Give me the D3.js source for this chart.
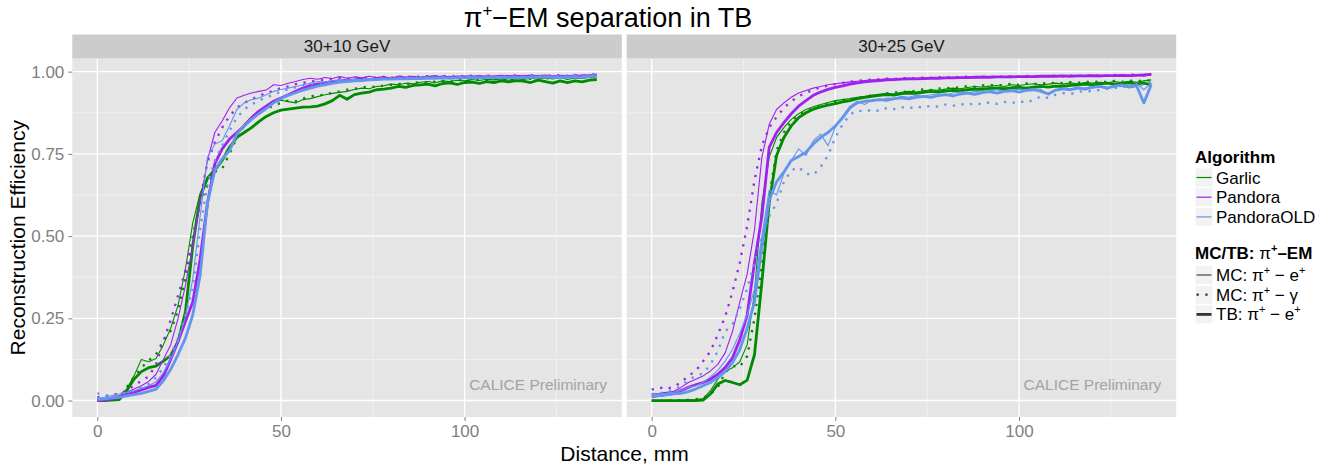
<!DOCTYPE html>
<html>
<head>
<meta charset="utf-8">
<script src="https://cdn.jsdelivr.net/npm/d3@7"></script>
<style>
  body { margin: 0; background: #fff; }
  svg { font-family: "Liberation Sans", Arial, sans-serif; }
</style>
</head>
<body>
<svg id="chart"></svg>
<script>
// distance values (mm), shared by all series
const distance = [0,2,4,6,8,10,12,14,16,18,20,22,24,26,28,30,32,34,36,38,40,42,44,46,48,50,52,54,56,58,60,62,64,66,68,70,72,74,76,78,80,82,84,86,88,90,92,94,96,98,100,102,104,106,108,110,112,114,116,118,120,122,124,126,128,130,132,134,136];

const panels = ['30+10 GeV', '30+25 GeV'];
const algorithms = ['Garlic', 'Pandora', 'PandoraOLD'];
const algoColors = ['#008B00', '#A020F0', '#6495ED'];
const xTicks = [0, 50, 100];
const yTicks = [0, 0.25, 0.5, 0.75, 1];

// ---- 30+10 GeV ----
const garlic10_mcE = [0,0,0.001,0.004,0.035,0.075,0.125,0.118,0.128,0.17,0.22,0.29,0.40,0.54,0.63,0.68,0.705,0.73,0.765,0.81,0.84,0.862,0.88,0.895,0.905,0.913,0.909,0.905,0.915,0.918,0.924,0.93,0.934,0.937,0.94,0.946,0.95,0.948,0.955,0.957,0.962,0.96,0.965,0.963,0.968,0.97,0.966,0.972,0.97,0.974,0.972,0.976,0.973,0.977,0.975,0.978,0.974,0.979,0.976,0.98,0.977,0.981,0.978,0.982,0.976,0.981,0.979,0.983,0.98];
const garlic10_mcG = [0.001,0.001,0.003,0.01,0.04,0.072,0.10,0.122,0.14,0.183,0.212,0.275,0.37,0.50,0.60,0.655,0.695,0.705,0.75,0.80,0.835,0.856,0.874,0.888,0.896,0.905,0.912,0.91,0.918,0.925,0.928,0.93,0.936,0.94,0.945,0.948,0.952,0.955,0.953,0.958,0.96,0.963,0.961,0.966,0.968,0.965,0.97,0.972,0.969,0.974,0.975,0.972,0.977,0.975,0.978,0.976,0.98,0.977,0.981,0.978,0.982,0.979,0.983,0.98,0.984,0.981,0.985,0.982,0.988];
const garlic10_tbE = [0,0,0.001,0.003,0.03,0.065,0.088,0.1,0.105,0.12,0.137,0.18,0.27,0.47,0.62,0.675,0.70,0.73,0.77,0.80,0.815,0.83,0.848,0.864,0.875,0.883,0.886,0.889,0.892,0.893,0.895,0.902,0.912,0.928,0.916,0.93,0.935,0.938,0.945,0.947,0.95,0.955,0.952,0.958,0.96,0.962,0.957,0.964,0.966,0.961,0.967,0.968,0.964,0.97,0.967,0.972,0.969,0.973,0.971,0.967,0.974,0.97,0.965,0.972,0.967,0.972,0.969,0.974,0.976];
const pandora10_mcE = [0.003,0.006,0.01,0.015,0.025,0.035,0.045,0.058,0.08,0.125,0.17,0.25,0.35,0.47,0.6,0.73,0.815,0.85,0.89,0.92,0.928,0.935,0.94,0.944,0.96,0.958,0.965,0.97,0.976,0.98,0.977,0.982,0.979,0.985,0.98,0.984,0.981,0.986,0.982,0.985,0.98,0.987,0.983,0.986,0.981,0.985,0.988,0.983,0.986,0.982,0.987,0.984,0.988,0.983,0.986,0.984,0.988,0.982,0.987,0.985,0.989,0.983,0.987,0.984,0.988,0.985,0.99,0.986,0.991];
const pandora10_mcG = [0.01,0.014,0.017,0.022,0.03,0.045,0.06,0.073,0.11,0.18,0.245,0.32,0.395,0.49,0.61,0.725,0.785,0.83,0.865,0.89,0.905,0.916,0.926,0.935,0.942,0.95,0.955,0.962,0.966,0.97,0.973,0.975,0.978,0.98,0.978,0.982,0.98,0.983,0.981,0.984,0.982,0.985,0.983,0.986,0.984,0.986,0.984,0.987,0.985,0.987,0.985,0.988,0.986,0.988,0.985,0.988,0.986,0.989,0.987,0.989,0.986,0.989,0.987,0.99,0.987,0.99,0.988,0.99,0.992];
const pandora10_tbE = [0,0.002,0.005,0.01,0.018,0.025,0.032,0.04,0.046,0.075,0.125,0.18,0.24,0.30,0.43,0.60,0.72,0.765,0.795,0.815,0.835,0.86,0.88,0.895,0.91,0.92,0.93,0.94,0.95,0.958,0.962,0.966,0.969,0.972,0.974,0.975,0.977,0.976,0.978,0.98,0.979,0.981,0.98,0.982,0.981,0.983,0.982,0.984,0.982,0.984,0.983,0.985,0.983,0.985,0.984,0.986,0.984,0.986,0.985,0.987,0.985,0.987,0.984,0.986,0.985,0.987,0.986,0.988,0.99];
const old10_mcE = [0.008,0.01,0.015,0.02,0.025,0.03,0.037,0.045,0.057,0.085,0.125,0.18,0.255,0.37,0.56,0.74,0.78,0.79,0.835,0.885,0.905,0.915,0.92,0.93,0.94,0.946,0.95,0.955,0.96,0.965,0.97,0.968,0.973,0.975,0.974,0.977,0.976,0.979,0.977,0.98,0.978,0.981,0.979,0.982,0.98,0.983,0.981,0.983,0.98,0.984,0.982,0.985,0.982,0.984,0.983,0.986,0.983,0.985,0.982,0.986,0.984,0.987,0.983,0.986,0.984,0.987,0.985,0.988,0.99];
const old10_mcG = [0.023,0.013,0.016,0.02,0.024,0.03,0.04,0.05,0.07,0.1,0.14,0.19,0.26,0.34,0.52,0.66,0.73,0.775,0.82,0.86,0.885,0.9,0.912,0.922,0.93,0.94,0.946,0.952,0.958,0.962,0.966,0.968,0.971,0.973,0.975,0.976,0.978,0.977,0.979,0.98,0.979,0.981,0.98,0.982,0.981,0.983,0.982,0.983,0.981,0.984,0.983,0.985,0.983,0.985,0.984,0.986,0.984,0.986,0.985,0.987,0.985,0.987,0.984,0.987,0.985,0.988,0.986,0.988,0.99];
const old10_tbE = [0.003,0.005,0.008,0.01,0.014,0.018,0.022,0.028,0.035,0.06,0.095,0.14,0.19,0.26,0.38,0.6,0.70,0.735,0.76,0.81,0.835,0.855,0.872,0.888,0.905,0.918,0.928,0.936,0.944,0.95,0.956,0.96,0.964,0.968,0.97,0.972,0.973,0.975,0.976,0.977,0.977,0.978,0.978,0.979,0.979,0.98,0.98,0.981,0.98,0.981,0.981,0.982,0.981,0.982,0.982,0.983,0.982,0.983,0.982,0.983,0.983,0.984,0.982,0.983,0.983,0.984,0.983,0.985,0.987];

// ---- 30+25 GeV ----
const garlic25_mcE = [0.001,0,0.001,0,0.001,0.002,0.003,0.006,0.03,0.065,0.088,0.1,0.118,0.17,0.33,0.6,0.74,0.8,0.83,0.855,0.872,0.885,0.893,0.9,0.906,0.912,0.915,0.918,0.922,0.925,0.929,0.931,0.934,0.932,0.937,0.94,0.938,0.942,0.945,0.943,0.947,0.95,0.948,0.952,0.955,0.953,0.956,0.958,0.955,0.96,0.958,0.961,0.963,0.96,0.962,0.965,0.962,0.966,0.963,0.967,0.965,0.968,0.966,0.97,0.967,0.971,0.968,0.972,0.975];
const garlic25_mcG = [0,0,0,0.001,0.001,0.002,0.004,0.008,0.02,0.04,0.085,0.105,0.103,0.135,0.25,0.41,0.62,0.76,0.815,0.85,0.868,0.88,0.89,0.896,0.902,0.908,0.913,0.916,0.92,0.925,0.927,0.93,0.934,0.936,0.94,0.938,0.943,0.946,0.944,0.948,0.951,0.949,0.953,0.956,0.954,0.958,0.96,0.957,0.961,0.963,0.96,0.964,0.962,0.966,0.963,0.967,0.965,0.968,0.966,0.97,0.967,0.971,0.968,0.972,0.969,0.973,0.97,0.975,0.972];
const garlic25_tbE = [0,0,0,0,0,0,0,0.001,0.02,0.05,0.061,0.055,0.048,0.062,0.14,0.36,0.6,0.745,0.8,0.835,0.86,0.875,0.886,0.893,0.898,0.903,0.908,0.912,0.918,0.922,0.925,0.928,0.93,0.929,0.933,0.935,0.934,0.937,0.94,0.938,0.941,0.943,0.942,0.945,0.947,0.946,0.949,0.95,0.948,0.951,0.952,0.95,0.953,0.955,0.953,0.956,0.955,0.958,0.96,0.962,0.96,0.963,0.965,0.962,0.964,0.966,0.963,0.965,0.96];
const pandora25_mcE = [0.02,0.022,0.025,0.028,0.04,0.055,0.065,0.075,0.09,0.11,0.145,0.21,0.30,0.385,0.52,0.74,0.84,0.885,0.905,0.922,0.935,0.943,0.95,0.955,0.96,0.963,0.966,0.969,0.971,0.973,0.975,0.976,0.978,0.977,0.979,0.98,0.979,0.981,0.98,0.982,0.981,0.983,0.982,0.984,0.982,0.985,0.983,0.985,0.984,0.986,0.984,0.986,0.985,0.987,0.985,0.987,0.986,0.988,0.986,0.988,0.987,0.985,0.988,0.986,0.989,0.987,0.99,0.986,0.991];
const pandora25_mcG = [0.033,0.04,0.035,0.042,0.055,0.075,0.09,0.12,0.15,0.2,0.255,0.33,0.42,0.53,0.67,0.775,0.83,0.862,0.89,0.91,0.925,0.936,0.945,0.952,0.958,0.962,0.966,0.969,0.972,0.974,0.976,0.977,0.979,0.978,0.98,0.981,0.98,0.982,0.981,0.983,0.982,0.984,0.983,0.985,0.983,0.985,0.984,0.986,0.984,0.986,0.985,0.987,0.985,0.987,0.986,0.988,0.986,0.988,0.987,0.989,0.987,0.989,0.988,0.99,0.988,0.99,0.992,0.989,0.993];
const pandora25_tbE = [0.012,0.015,0.018,0.022,0.03,0.04,0.048,0.055,0.065,0.08,0.1,0.13,0.185,0.26,0.42,0.56,0.77,0.815,0.845,0.872,0.895,0.912,0.928,0.938,0.946,0.952,0.957,0.962,0.966,0.969,0.971,0.973,0.975,0.976,0.977,0.978,0.978,0.979,0.98,0.98,0.981,0.981,0.982,0.982,0.983,0.983,0.983,0.984,0.984,0.984,0.985,0.985,0.985,0.986,0.986,0.986,0.987,0.986,0.987,0.987,0.988,0.987,0.988,0.988,0.989,0.988,0.989,0.99,0.992];
const old25_mcE = [0.02,0.02,0.022,0.025,0.03,0.04,0.045,0.055,0.072,0.092,0.12,0.155,0.205,0.26,0.34,0.5,0.64,0.625,0.69,0.73,0.765,0.745,0.79,0.81,0.775,0.83,0.865,0.895,0.91,0.9,0.915,0.912,0.92,0.918,0.925,0.922,0.928,0.925,0.93,0.933,0.928,0.935,0.938,0.934,0.94,0.937,0.942,0.945,0.94,0.943,0.947,0.944,0.949,0.946,0.93,0.945,0.95,0.948,0.953,0.95,0.955,0.957,0.952,0.958,0.962,0.956,0.964,0.945,0.965];
const old25_mcG = [0.02,0.022,0.026,0.032,0.045,0.062,0.075,0.082,0.11,0.15,0.21,0.232,0.28,0.34,0.42,0.505,0.56,0.6,0.665,0.7,0.71,0.69,0.686,0.71,0.745,0.8,0.84,0.87,0.882,0.878,0.885,0.88,0.89,0.886,0.892,0.888,0.895,0.89,0.897,0.893,0.9,0.896,0.902,0.898,0.905,0.9,0.907,0.902,0.908,0.904,0.91,0.905,0.915,0.925,0.92,0.93,0.935,0.932,0.938,0.942,0.94,0.945,0.948,0.95,0.955,0.952,0.958,0.96,0.968];
const old25_tbE = [0.015,0.015,0.017,0.02,0.022,0.027,0.035,0.045,0.055,0.07,0.088,0.115,0.155,0.22,0.3,0.47,0.61,0.665,0.695,0.73,0.742,0.755,0.78,0.80,0.815,0.835,0.86,0.89,0.905,0.91,0.912,0.915,0.913,0.918,0.92,0.917,0.922,0.925,0.922,0.927,0.93,0.926,0.932,0.935,0.931,0.936,0.939,0.935,0.94,0.942,0.938,0.943,0.945,0.94,0.932,0.944,0.948,0.945,0.95,0.947,0.952,0.955,0.95,0.956,0.958,0.953,0.957,0.905,0.96];

// build series per panel, Garlic / Pandora / PandoraOLD x (MC e, MC gamma, TB e)
const panelSeries = [
  [[garlic10_mcE, garlic10_mcG, garlic10_tbE], [pandora10_mcE, pandora10_mcG, pandora10_tbE], [old10_mcE, old10_mcG, old10_tbE]],
  [[garlic25_mcE, garlic25_mcG, garlic25_tbE], [pandora25_mcE, pandora25_mcG, pandora25_tbE], [old25_mcE, old25_mcG, old25_tbE]]
];

// line styles for MC e, MC gamma, TB e
const lineStyle = [
  {width: 1.1, dash: null},
  {width: 2.3, dash: '2.3,6.5'},
  {width: 2.8, dash: null}
];

const W = 1339, H = 468;
const svg = d3.select('#chart').attr('width', W).attr('height', H);

const panelLeft = [72.3, 626.7];
const pw = 549.5;
const panelTop = 58.5, ph = 358.5;
const stripTop = 34.5;

const x = d3.scaleLinear().domain([-6.8, 142.8]).range([0, pw]);
const y = d3.scaleLinear().domain([-0.05, 1.04]).range([ph, 0]);

const line = d3.line()
  .x((d, i) => x(distance[i]))
  .y(d => y(d));

panels.forEach((name, p) => {
  const g = svg.append('g').attr('transform', `translate(${panelLeft[p]},${panelTop})`);

  // strip
  svg.append('rect')
    .attr('x', panelLeft[p]).attr('y', stripTop)
    .attr('width', pw).attr('height', panelTop - stripTop)
    .attr('fill', '#CCCCCC');
  svg.append('text')
    .attr('x', panelLeft[p] + pw / 2).attr('y', stripTop + 17.5)
    .attr('text-anchor', 'middle')
    .attr('font-size', 17).attr('fill', '#1A1A1A')
    .text(name);

  g.append('rect').attr('width', pw).attr('height', ph).attr('fill', '#E5E5E5');

  // minor grid
  [25, 75, 125].forEach(v => {
    g.append('line').attr('x1', x(v)).attr('x2', x(v)).attr('y1', 0).attr('y2', ph)
      .attr('stroke', '#F2F2F2').attr('stroke-width', 0.8);
  });
  [0.125, 0.375, 0.625, 0.875].forEach(v => {
    g.append('line').attr('x1', 0).attr('x2', pw).attr('y1', y(v)).attr('y2', y(v))
      .attr('stroke', '#F2F2F2').attr('stroke-width', 0.8);
  });
  // major grid
  xTicks.forEach(v => {
    g.append('line').attr('x1', x(v)).attr('x2', x(v)).attr('y1', 0).attr('y2', ph)
      .attr('stroke', '#fff').attr('stroke-width', 1.4);
  });
  yTicks.forEach(v => {
    g.append('line').attr('x1', 0).attr('x2', pw).attr('y1', y(v)).attr('y2', y(v))
      .attr('stroke', '#fff').attr('stroke-width', 1.4);
  });

  // lines
  panelSeries[p].forEach((algo, a) => {
    algo.forEach((vals, t) => {
      g.append('path')
        .datum(vals)
        .attr('d', line)
        .attr('fill', 'none')
        .attr('stroke', algoColors[a])
        .attr('stroke-width', lineStyle[t].width)
        .attr('stroke-dasharray', lineStyle[t].dash)
        .attr('stroke-linejoin', 'round');
    });
  });

  g.append('text')
    .attr('x', x(120)).attr('y', y(0.05)).attr('dy', '0.35em')
    .attr('text-anchor', 'middle')
    .attr('font-size', 15.5).attr('fill', '#A3A3A3')
    .text('CALICE Preliminary');

  // x axis
  const xAxis = d3.axisBottom(x).tickValues(xTicks).tickSize(4).tickPadding(4);
  const xa = g.append('g').attr('transform', `translate(0,${ph})`).call(xAxis);
  xa.select('.domain').remove();
  xa.selectAll('line').attr('stroke', '#7F7F7F');
  xa.selectAll('text').attr('fill', '#7F7F7F').attr('font-size', 17)
    .attr('font-family', '"Liberation Sans", Arial, sans-serif');

  if (p === 0) {
    const yAxis = d3.axisLeft(y).tickValues(yTicks).tickFormat(d3.format('.2f')).tickSize(4).tickPadding(4);
    const ya = g.append('g').call(yAxis);
    ya.select('.domain').remove();
    ya.selectAll('line').attr('stroke', '#7F7F7F');
    ya.selectAll('text').attr('fill', '#7F7F7F').attr('font-size', 17)
      .attr('font-family', '"Liberation Sans", Arial, sans-serif');
  }
});

// titles
const title = svg.append('text').attr('x', 608).attr('y', 27)
  .attr('text-anchor', 'middle').attr('font-size', 27).attr('fill', '#000');
title.append('tspan').text('π');
title.append('tspan').attr('font-size', 17).attr('dy', -11).text('+');
title.append('tspan').attr('dy', 11).text('\u2212EM separation in TB');

svg.append('text').attr('x', 624.5).attr('y', 461)
  .attr('text-anchor', 'middle').attr('font-size', 21).text('Distance, mm');

svg.append('text')
  .attr('transform', `translate(25,${panelTop + ph / 2}) rotate(-90)`)
  .attr('text-anchor', 'middle').attr('font-size', 21).text('Reconstruction Efficiency');

// legend: Algorithm
const lg = svg.append('g').attr('transform', 'translate(1195,0)');
lg.append('text').attr('x', 0).attr('y', 163).attr('font-size', 17).attr('font-weight', 'bold').text('Algorithm');
algorithms.forEach((name, i) => {
  const cy = 177.5 + i * 19.7;
  lg.append('rect').attr('x', 0).attr('y', cy - 9.5).attr('width', 18).attr('height', 19)
    .attr('fill', '#F2F2F2').attr('stroke', '#fff').attr('stroke-width', 1);
  lg.append('line').attr('x1', 1.5).attr('x2', 16.5).attr('y1', cy).attr('y2', cy)
    .attr('stroke', algoColors[i]).attr('stroke-width', 1.2);
  lg.append('text').attr('x', 21).attr('y', cy).attr('dy', '0.36em').attr('font-size', 17).text(name);
});

// legend: MC/TB
const lt = lg.append('text').attr('x', 0).attr('y', 259).attr('font-size', 17).attr('font-weight', 'bold');
lt.append('tspan').text('MC/TB: ');
lt.append('tspan').attr('font-weight', 'normal').text('π');
lt.append('tspan').attr('font-size', 11).attr('dy', -7).text('+');
lt.append('tspan').attr('dy', 7).text('\u2013EM');

const typeLabels = [['MC: π', ' \u2212 e', '+'], ['MC: π', ' \u2212 γ', ''], ['TB: π', ' \u2212 e', '+']];
typeLabels.forEach((lab, i) => {
  const cy = 275 + i * 19.7;
  lg.append('rect').attr('x', 0).attr('y', cy - 9.5).attr('width', 18).attr('height', 19)
    .attr('fill', '#F2F2F2').attr('stroke', '#fff').attr('stroke-width', 1);
  lg.append('line').attr('x1', 1.5).attr('x2', 16.5).attr('y1', cy).attr('y2', cy)
    .attr('stroke', '#333').attr('stroke-width', lineStyle[i].width)
    .attr('stroke-dasharray', lineStyle[i].dash);
  const t = lg.append('text').attr('x', 21).attr('y', cy + 6).attr('font-size', 17);
  t.append('tspan').text(lab[0]);
  t.append('tspan').attr('font-size', 11).attr('dy', -7).text('+');
  t.append('tspan').attr('dy', 7).text(lab[1]);
  if (lab[2]) t.append('tspan').attr('font-size', 11).attr('dy', -7).text(lab[2]);
});
</script>
</body>
</html>
